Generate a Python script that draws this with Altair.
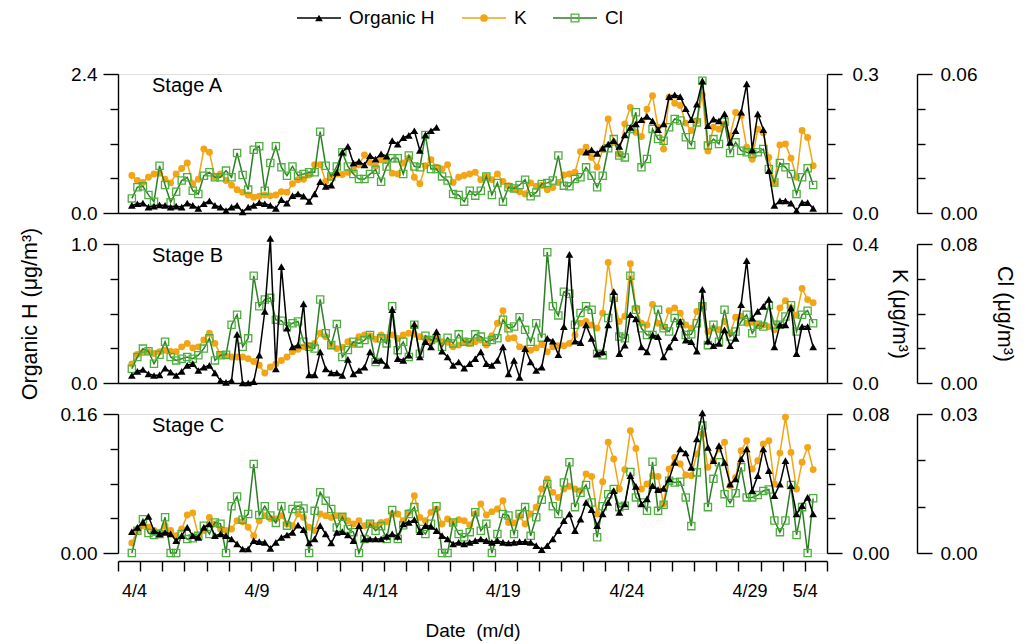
import altair as alt
import numpy as np
import pandas as pd

FONT = "Liberation Sans"

# samples every 6 h, first one on 4/3 at 15:00; x = days since 4/3 00:00
FIRST_DAY = 0.625
STEP_DAY = 0.25

stages = ["Stage A", "Stage B", "Stage C"]
series_names = ["Organic H", "K", "Cl"]
date_labels = ["4/4", "4/9", "4/14", "4/19", "4/24", "4/29", "5/4"]
date_label_days = [0.72, 6.25, 11.82, 17.37, 22.95, 28.50, 31.0]
day_ticks = list(range(33))

h_max = [2.4, 1.0, 0.16]
k_max = [0.3, 0.4, 0.08]
cl_max = [0.06, 0.08, 0.03]
cl_div = [4, 4, 3]
fmt_h = [".1f", ".1f", ".2f"]
fmt_k = [".1f", ".1f", ".2f"]
fmt_cl = [".2f", ".2f", ".2f"]

# ---------------- Stage A ----------------
h_A = ([0.13, 0.16, 0.17, 0.10, 0.12, 0.14, 0.13, 0.10, 0.12, 0.10,
        0.17, 0.13, 0.08, 0.16, 0.21, 0.13, 0.10, 0.04, 0.10, 0.13,
        0.02, 0.10, 0.13, 0.18, 0.16, 0.13, 0.08, 0.23, 0.17, 0.30,
        0.33, 0.29, 0.20, 0.33, 0.54, 0.46, 0.48, 0.70,
        1.05, 1.15, 0.86, 0.89, 0.83, 0.99, 0.93, 1.02, 0.98, 1.25,
        1.19, 1.30, 1.34, 1.42, 1.08, 1.35, 1.42, 1.48]
       + [None] * 26 +
       [1.05, 1.09, 1.03, 1.12, 1.19, 1.25, 1.15, 1.35, 1.48, 1.54,
        1.61, 1.67, 1.59, 1.44, 1.54, 2.01, 2.04, 2.01, 1.80, 1.61,
        1.88, 2.28, 1.51, 1.62, 1.59, 1.71, 1.22, 1.42, 1.74, 2.23,
        1.09, 1.71, 1.44, 0.73, 0.13, 0.21, 0.21, 0.17, 0.04, 0.18,
        0.18, 0.08])
k_A = [0.081, 0.070, 0.066, 0.077, 0.084, 0.086, 0.073, 0.065, 0.084, 0.096,
       0.108, 0.063, 0.073, 0.138, 0.131, 0.077, 0.084, 0.070, 0.060, 0.050,
       0.045, 0.039, 0.034, 0.036, 0.039, 0.037, 0.039, 0.046, 0.045, 0.063,
       0.072, 0.073, 0.082, 0.104, 0.104, 0.068, 0.079, 0.084,
       0.083, 0.088, 0.093, 0.104, 0.125, 0.109, 0.101, 0.115, 0.113, 0.086,
       0.084, 0.108, 0.118, 0.077, 0.063, 0.102, 0.115, 0.099, 0.095, 0.104,
       0.066, 0.077, 0.081, 0.084, 0.088, 0.072, 0.079, 0.072, 0.084, 0.068,
       0.059, 0.052, 0.046, 0.041, 0.065, 0.058, 0.060, 0.050, 0.055, 0.066,
       0.082, 0.084, 0.088,
       0.132, 0.142, 0.120, 0.099, 0.137, 0.203, 0.152, 0.127, 0.192, 0.228,
       0.174, 0.165, 0.224, 0.253, 0.185, 0.138, 0.250, 0.237, 0.232, 0.194,
       0.178, 0.199, 0.255, 0.134, 0.185, 0.181, 0.192, 0.167, 0.217, 0.210,
       0.142, 0.116, 0.181, 0.173, 0.120, 0.065, 0.147, 0.149, 0.118, 0.077,
       0.178, 0.163, 0.102]
cl_A = [0.0063, 0.0111, 0.0115, 0.0078, 0.0049, 0.0204, 0.0121, 0.0046, 0.0092, 0.0140,
        0.0154, 0.0096, 0.0082, 0.0161, 0.0176, 0.0154, 0.0154, 0.0183, 0.0154, 0.0259,
        0.0164, 0.0101, 0.0273, 0.0288, 0.0096, 0.0216, 0.0288, 0.0197, 0.0161, 0.0201,
        0.0161, 0.0168, 0.0176, 0.0176, 0.0351, 0.0204, 0.0158, 0.0201,
        0.0262, 0.0201, 0.0168, 0.0147, 0.0147, 0.0168, 0.0187, 0.0135, 0.0201, 0.0236,
        0.0236, 0.0168, 0.0248, 0.0201, 0.0197, 0.0337, 0.0190, 0.0190, 0.0158, 0.0140,
        0.0082, 0.0078, 0.0049, 0.0096, 0.0075, 0.0096, 0.0158, 0.0078, 0.0130, 0.0049,
        0.0111, 0.0106, 0.0121, 0.0144, 0.0072, 0.0089, 0.0125, 0.0130, 0.0140, 0.0248,
        0.0118, 0.0115, 0.0147,
        0.0154, 0.0197, 0.0161, 0.0111, 0.0161, 0.0279, 0.0319, 0.0248, 0.0240, 0.0363,
        0.0435, 0.0197, 0.0233, 0.0363, 0.0319, 0.0312, 0.0370, 0.0406, 0.0399, 0.0327,
        0.0294, 0.0391, 0.0571, 0.0291, 0.0319, 0.0298, 0.0394, 0.0259, 0.0305, 0.0269,
        0.0262, 0.0255, 0.0262, 0.0276, 0.0190, 0.0132, 0.0216, 0.0197, 0.0168, 0.0082,
        0.0154, 0.0193, 0.0121]

# ---------------- Stage B ----------------
h_B = [0.054, 0.083, 0.097, 0.066, 0.054, 0.058, 0.107, 0.078, 0.054, 0.083,
       0.127, 0.139, 0.090, 0.114, 0.127, 0.073, 0.017, 0.005, 0.017, 0.350,
       0.0, 0.0, 0.010, 0.200, 0.516, 1.04, 0.102, 0.837, 0.394, 0.260,
       0.272, 0.569, 0.058, 0.058, 0.224, 0.102, 0.073, 0.073,
       0.054, 0.170, 0.066, 0.090, 0.114, 0.224, 0.163, 0.163, 0.127, 0.528,
       0.175, 0.163, 0.200, 0.423, 0.187, 0.297, 0.260, 0.370, 0.229, 0.187,
       0.127, 0.151, 0.107, 0.139, 0.175, 0.224, 0.139, 0.127, 0.163, 0.260,
       0.066, 0.163, 0.041, 0.248, 0.151, 0.090, 0.114, 0.321, 0.302, 0.204,
       0.406, 0.925, 0.302,
       0.290, 0.418, 0.321, 0.212, 0.224, 0.418, 0.657, 0.212, 0.272, 0.491,
       0.462, 0.260, 0.224, 0.345, 0.333, 0.187, 0.260, 0.326, 0.443, 0.309,
       0.297, 0.229, 0.674, 0.302, 0.268, 0.285, 0.382, 0.268, 0.321, 0.564,
       0.881, 0.467, 0.516, 0.552, 0.601, 0.260, 0.418, 0.418, 0.540, 0.212,
       0.406, 0.406, 0.260]
k_B = [0.055, 0.082, 0.088, 0.090, 0.085, 0.090, 0.094, 0.091, 0.090, 0.104,
       0.114, 0.101, 0.104, 0.124, 0.143, 0.114, 0.082, 0.078, 0.075, 0.075,
       0.075, 0.070, 0.062, 0.051, 0.029, 0.046, 0.055, 0.065, 0.075, 0.090,
       0.097, 0.104, 0.107, 0.114, 0.143, 0.133, 0.109, 0.099,
       0.103, 0.119, 0.111, 0.133, 0.138, 0.136, 0.126, 0.138, 0.130, 0.138,
       0.128, 0.138, 0.143, 0.140, 0.133, 0.128, 0.124, 0.128, 0.119, 0.117,
       0.104, 0.109, 0.119, 0.114, 0.119, 0.124, 0.109, 0.136, 0.172, 0.208,
       0.128, 0.130, 0.104, 0.099, 0.094, 0.101, 0.111, 0.090, 0.104, 0.107,
       0.107, 0.114, 0.138,
       0.172, 0.177, 0.167, 0.158, 0.201, 0.347, 0.240, 0.177, 0.192, 0.343,
       0.216, 0.172, 0.167, 0.226, 0.172, 0.162, 0.208, 0.216, 0.201, 0.167,
       0.158, 0.206, 0.224, 0.148, 0.158, 0.153, 0.177, 0.143, 0.189, 0.192,
       0.172, 0.175, 0.167, 0.167, 0.162, 0.153, 0.216, 0.237, 0.216, 0.195,
       0.272, 0.240, 0.231]
cl_B = [0.0082, 0.0150, 0.0198, 0.0183, 0.0111, 0.0163, 0.0237, 0.0150, 0.0130, 0.0140,
        0.0150, 0.0140, 0.0160, 0.0198, 0.0257, 0.0130, 0.0160, 0.0163, 0.0335, 0.0393,
        0.0208, 0.0257, 0.0617, 0.0442, 0.0481, 0.0490, 0.0364, 0.0358, 0.0325, 0.0344,
        0.0354, 0.0237, 0.0208, 0.0198, 0.0481, 0.0286, 0.0218, 0.0339,
        0.0150, 0.0190, 0.0237, 0.0228, 0.0247, 0.0276, 0.0121, 0.0257, 0.0228, 0.0442,
        0.0189, 0.0237, 0.0150, 0.0335, 0.0169, 0.0272, 0.0247, 0.0257, 0.0208, 0.0261,
        0.0228, 0.0280, 0.0237, 0.0234, 0.0280, 0.0267, 0.0237, 0.0247, 0.0257, 0.0364,
        0.0315, 0.0325, 0.0378, 0.0306, 0.0237, 0.0344, 0.0261, 0.0753, 0.0442, 0.0389,
        0.0525, 0.0514, 0.0335,
        0.0403, 0.0442, 0.0422, 0.0169, 0.0160, 0.0374, 0.0490, 0.0267, 0.0257, 0.0617,
        0.0422, 0.0315, 0.0276, 0.0276, 0.0422, 0.0315, 0.0296, 0.0374, 0.0344, 0.0276,
        0.0280, 0.0344, 0.0442, 0.0218, 0.0335, 0.0237, 0.0422, 0.0267, 0.0296, 0.0354,
        0.0393, 0.0286, 0.0335, 0.0325, 0.0448, 0.0335, 0.0335, 0.0383, 0.0448, 0.0296,
        0.0393, 0.0416, 0.0344]

# ---------------- Stage C ----------------
h_C = [0.0246, 0.0295, 0.0353, 0.0422, 0.0257, 0.0219, 0.0238, 0.0219, 0.0142, 0.0200,
       0.0295, 0.0200, 0.0180, 0.0295, 0.0334, 0.0200, 0.0219, 0.0200, 0.0161, 0.0104,
       0.0046, 0.0046, 0.0142, 0.0130, 0.0123, 0.0054, 0.0123, 0.0180, 0.0207, 0.0238,
       0.0322, 0.0269, 0.0115, 0.0161, 0.0315, 0.0219, 0.0115, 0.0238,
       0.0246, 0.0207, 0.0142, 0.0315, 0.0161, 0.0161, 0.0161, 0.0161, 0.0192, 0.0219,
       0.0192, 0.0334, 0.0353, 0.0384, 0.0246, 0.0315, 0.0307, 0.0257, 0.0200, 0.0161,
       0.0104, 0.0123, 0.0104, 0.0123, 0.0142, 0.0161, 0.0142, 0.0123, 0.0142, 0.0123,
       0.0115, 0.0123, 0.0130, 0.0130, 0.0123, 0.0084, 0.0038, 0.0084, 0.0161, 0.0257,
       0.0372, 0.0449, 0.0257,
       0.0391, 0.0583, 0.0499, 0.0315, 0.0449, 0.0583, 0.0718, 0.0468, 0.0564, 0.0890,
       0.0767, 0.0564, 0.0622, 0.0775, 0.0729, 0.0744, 0.0852, 0.1044, 0.1197, 0.1151,
       0.0986, 0.1312, 0.1612, 0.1216, 0.1063, 0.1236, 0.1044, 0.0794, 0.0852, 0.1082,
       0.1197, 0.0718, 0.0890, 0.1197, 0.0948, 0.0660, 0.0794, 0.1063, 0.0775, 0.0449,
       0.0545, 0.0641, 0.0449]
k_C = [0.0058, 0.0129, 0.0157, 0.0148, 0.0129, 0.0119, 0.0157, 0.0129, 0.0100, 0.0138,
       0.0219, 0.0230, 0.0100, 0.0129, 0.0205, 0.0167, 0.0138, 0.0129, 0.0138, 0.0186,
       0.0180, 0.0148, 0.0100, 0.0186, 0.0215, 0.0199, 0.0196, 0.0215, 0.0167, 0.0157,
       0.0224, 0.0205, 0.0148, 0.0129, 0.0224, 0.0215, 0.0205, 0.0215,
       0.0210, 0.0186, 0.0167, 0.0186, 0.0157, 0.0167, 0.0157, 0.0176, 0.0180, 0.0224,
       0.0224, 0.0186, 0.0234, 0.0330, 0.0205, 0.0186, 0.0234, 0.0253, 0.0167, 0.0196,
       0.0176, 0.0192, 0.0186, 0.0161, 0.0224, 0.0282, 0.0219, 0.0238, 0.0253, 0.0301,
       0.0176, 0.0173, 0.0211, 0.0167, 0.0224, 0.0263, 0.0368, 0.0426, 0.0349, 0.0320,
       0.0368, 0.0384, 0.0368,
       0.0359, 0.0455, 0.0441, 0.0224, 0.0410, 0.0637, 0.0541, 0.0368, 0.0480, 0.0704,
       0.0602, 0.0368, 0.0397, 0.0445, 0.0441, 0.0282, 0.0483, 0.0550, 0.0512, 0.0449,
       0.0445, 0.0570, 0.0685, 0.0493, 0.0531, 0.0598, 0.0637, 0.0387, 0.0435, 0.0589,
       0.0646, 0.0483, 0.0531, 0.0627, 0.0646, 0.0397, 0.0575, 0.0781, 0.0579, 0.0368,
       0.0522, 0.0608, 0.0480]
cl_C = [0.0, 0.0048, 0.0073, 0.0043, 0.0039, 0.0041, 0.0077, 0.0, 0.0, 0.0041,
        0.0030, 0.0032, 0.0037, 0.0059, 0.0041, 0.0066, 0.0063, 0.0, 0.0101, 0.0122,
        0.0072, 0.0084, 0.0192, 0.0082, 0.0101, 0.0081, 0.0065, 0.0101, 0.0059, 0.0095,
        0.0102, 0.0096, 0.0, 0.0091, 0.0131, 0.0113, 0.0095, 0.0055,
        0.0078, 0.0052, 0.0045, 0.0, 0.0030, 0.0063, 0.0048, 0.0058, 0.0030, 0.0093,
        0.0030, 0.0060, 0.0084, 0.0099, 0.0052, 0.0041, 0.0063, 0.0101, 0.0, 0.0,
        0.0066, 0.0041, 0.0034, 0.0045, 0.0088, 0.0048, 0.0063, 0.0, 0.0041, 0.0084,
        0.0081, 0.0041, 0.0084, 0.0099, 0.0037, 0.0077, 0.0115, 0.0149, 0.0101, 0.0084,
        0.0152, 0.0196, 0.0099,
        0.0130, 0.0147, 0.0109, 0.0034, 0.0101, 0.0127, 0.0138, 0.0099, 0.0102, 0.0175,
        0.0120, 0.0109, 0.0091, 0.0197, 0.0091, 0.0104, 0.0156, 0.0152, 0.0154, 0.0120,
        0.0058, 0.0174, 0.0275, 0.0099, 0.0160, 0.0196, 0.0127, 0.0108, 0.0129, 0.0185,
        0.0120, 0.0120, 0.0125, 0.0134, 0.0137, 0.0070, 0.0045, 0.0070, 0.0147, 0.0039,
        0.0099, 0.0, 0.0118]

H_COLOR = "#000000"
K_COLOR = "#F2A516"
CL_LINE = "#2C7F24"
CL_MARK = "#4DB03E"

PW, PH = 709, 139
TITLE_SIZE = 21.5


def frame(vals):
    v = pd.Series(vals, dtype="float")
    df = pd.DataFrame({"day": FIRST_DAY + STEP_DAY * np.arange(len(v)), "v": v})
    df["seg"] = df["v"].isna().cumsum()
    return df.dropna()


xscale = alt.Scale(domain=[0, 32], nice=False, zero=False)


def yaxis(orient, top, ndiv, fmt, label_pad, title=None, offset=0, title_pad=0):
    vals = [round(top * i / ndiv, 6) for i in range(ndiv + 1)]
    end = f"(datum.value < {top * 1e-3} || datum.value > {top * 0.999})"
    kw = dict(orient=orient, values=vals, grid=False, domain=True,
              domainColor="black", domainWidth=1.4, tickColor="black", tickWidth=1.4,
              tickSize={"condition": {"test": end, "value": 15}, "value": 8},
              labelExpr=f"{end} ? format(datum.value, '{fmt}') : ''",
              labelFont=FONT, labelFontSize=19, labelColor="black",
              labelPadding=label_pad, labelOverlap=False, offset=offset)
    if title:
        kw.update(title=title, titleFont=FONT, titleFontSize=TITLE_SIZE,
                  titleFontWeight="normal", titleColor="black", titlePadding=title_pad)
    else:
        kw["title"] = None
    return alt.Axis(**kw)


plain_x = alt.Axis(ticks=False, labels=False, title=None, domain=True,
                   domainColor="black", domainWidth=1.4, grid=False)
tick_x = alt.Axis(orient="bottom", offset=8, values=day_ticks, labels=False, ticks=True,
                  tickSize=10, tickColor="black", tickWidth=1.4, domain=True,
                  domainColor="black", domainWidth=1.4, grid=False, title=None)
lab_expr = (f"{date_labels}[indexof({date_label_days}, datum.value)]")
label_x = alt.Axis(orient="bottom", offset=8, values=date_label_days, labelExpr=lab_expr,
                   ticks=False, tickSize=0, domain=False, grid=False, labelPadding=21,
                   labelFont=FONT, labelFontSize=18, labelColor="black",
                   labelFlush=False, labelOverlap=False,
                   title="Date \u00a0(m/d)", titleFont=FONT, titleFontSize=19,
                   titleFontWeight="normal", titleColor="black", titlePadding=21)


def series(vals, ymax, yax, xax, line_color, point):
    return alt.Chart(frame(vals)).mark_line(
        color=line_color, strokeWidth=1.5, point=point
    ).encode(
        x=alt.X("day:Q", scale=xscale, axis=xax),
        y=alt.Y("v:Q", scale=alt.Scale(domain=[0, ymax], nice=False, zero=False), axis=yax),
        detail="seg:N",
    )


pt_h = alt.OverlayMarkDef(shape="triangle-up", size=60, filled=True, color=H_COLOR, opacity=1)
pt_k = alt.OverlayMarkDef(shape="circle", size=48, filled=True, color=K_COLOR, opacity=1)
pt_cl = alt.OverlayMarkDef(shape="square", size=52, filled=False, color=CL_MARK,
                           strokeWidth=1.3, opacity=1)


def legend_layers():
    items = [
        (series_names[0], H_COLOR, "triangle-up", True, 179),
        (series_names[1], K_COLOR, "circle", True, 344),
        (series_names[2], CL_LINE, "square", False, 435),
    ]
    out = []
    dummy = pd.DataFrame({"a": [0]})
    for name, col, shape, filled, x0 in items:
        mcol = CL_MARK if name == "Cl" else col
        out.append(alt.Chart(dummy).mark_rule(color=col, strokeWidth=1.5).encode(
            x=alt.value(x0), x2=alt.value(x0 + 44), y=alt.value(-56)))
        out.append(alt.Chart(dummy).mark_point(shape=shape, size=60, filled=filled,
                                                color=mcol, opacity=1, strokeWidth=1.3).encode(
            x=alt.value(x0 + 22), y=alt.value(-56)))
        out.append(alt.Chart(dummy).mark_text(align="left", baseline="middle", font=FONT,
                                               fontSize=19, color="black").encode(
            x=alt.value(x0 + 52), y=alt.value(-56), text=alt.value(name)))
    return out


def panel(i, hv, kv, clv):
    mid = (i == 1)
    last = (i == 2)
    ax_h = yaxis("left", h_max[i], 4, fmt_h[i], 6,
                 title="Organic H (\u03bcg/m\u00b3)" if mid else None, title_pad=29)
    ax_k = yaxis("right", k_max[i], 4, fmt_k[i], 10,
                 title="K (\u03bcg/m\u00b3)" if mid else None, title_pad=9)
    ax_cl = yaxis("right", cl_max[i], cl_div[i], fmt_cl[i], 8,
                  title="Cl (\u03bcg/m\u00b3)" if mid else None, offset=90, title_pad=16)
    xk = tick_x if last else plain_x
    xc = label_x if last else plain_x
    xh = None if last else plain_x
    lk = series(kv, k_max[i], ax_k, xk, K_COLOR, pt_k)
    lc = series(clv, cl_max[i], ax_cl, xc, CL_LINE, pt_cl)
    lh = series(hv, h_max[i], ax_h, xh, H_COLOR, pt_h)
    txt = alt.Chart(pd.DataFrame({"label": [stages[i]]})).mark_text(
        align="left", baseline="middle", font=FONT, fontSize=20, color="black"
    ).encode(x=alt.value(34), y=alt.value(12), text="label:N")
    layers = [lk, lc, lh, txt]
    if i == 0:
        layers += legend_layers()
    ch = alt.layer(*layers).resolve_scale(y="independent")
    if last:
        ch = ch.resolve_axis(x="independent")
    return ch.properties(width=PW, height=PH)


chart = alt.vconcat(
    panel(0, h_A, k_A, cl_A),
    panel(1, h_B, k_B, cl_B),
    panel(2, h_C, k_C, cl_C),
    spacing=31,
    bounds="flush",
).properties(
    padding={"left": 11, "top": 0, "right": 0, "bottom": 0}
).configure_view(stroke=None).configure(font=FONT)

chart.save("out.html", embed_options={"renderer": "svg", "actions": False})
